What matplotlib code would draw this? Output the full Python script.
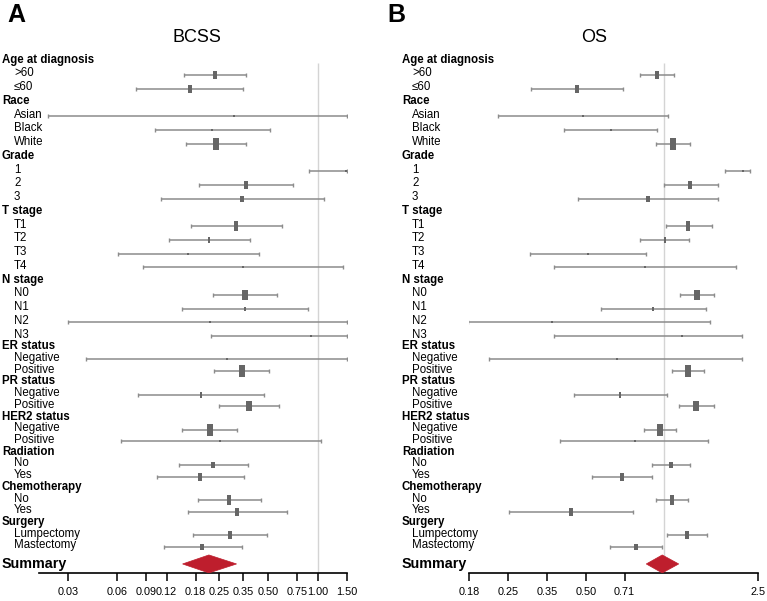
import matplotlib
matplotlib.use("Agg")
import matplotlib.pyplot as plt
from matplotlib.path import Path
from matplotlib.patches import Polygon
from matplotlib.transforms import blended_transform_factory

plt.rcParams['font.family'] = ['Liberation Sans', 'DejaVu Sans']

# variables and their levels (row order, top to bottom)
group_names = ["Age at diagnosis", "Race", "Grade", "T stage", "N stage", "ER status",
               "PR status", "HER2 status", "Radiation", "Chemotherapy", "Surgery"]
group_levels = [[">60", "≤60"], ["Asian", "Black", "White"], ["1", "2", "3"],
                ["T1", "T2", "T3", "T4"], ["N0", "N1", "N2", "N3"], ["Negative", "Positive"],
                ["Negative", "Positive"], ["Negative", "Positive"], ["No", "Yes"],
                ["No", "Yes"], ["Lumpectomy", "Mastectomy"]]

# relative weight of each level (box size)
weights = [7, 8, 1, 2, 12, 2, 7, 6, 9, 5, 2, 2, 10, 4, 2, 2, 2, 11, 5, 10, 11, 2, 6, 8, 9, 7, 8, 6]

# BCSS hazard ratios with 95% CI
bcss_hr = [0.236, 0.166, 0.31, 0.228, 0.239, 1.48, 0.363, 0.346, 0.317, 0.218, 0.163, 0.348, 0.361, 0.359,
           0.220, 0.915, 0.278, 0.343, 0.194, 0.382, 0.219, 0.255, 0.230, 0.192, 0.288, 0.321, 0.290, 0.198]
bcss_lo = [0.153, 0.078, 0.0228, 0.102, 0.157, 0.885, 0.188, 0.111, 0.170, 0.124, 0.0605, 0.086, 0.230, 0.148,
           0.030, 0.224, 0.0385, 0.234, 0.080, 0.251, 0.148, 0.0628, 0.142, 0.105, 0.185, 0.161, 0.174, 0.115]
bcss_hi = [0.363, 0.351, 1.5, 0.515, 0.364, 1.5, 0.707, 1.088, 0.601, 0.385, 0.439, 1.43, 0.565, 0.873,
           1.5, 1.5, 1.5, 0.501, 0.471, 0.579, 0.324, 1.04, 0.375, 0.353, 0.449, 0.650, 0.491, 0.346]
bcss_summary = (0.217, 0.150, 0.320)

# OS hazard ratios with 95% CI
os_hr = [0.942, 0.462, 0.488, 0.624, 1.091, 2.03, 1.27, 0.867, 1.247, 1.012, 0.510, 0.849, 1.35, 0.912,
         0.370, 1.18, 0.661, 1.243, 0.681, 1.34, 0.967, 0.772, 1.065, 0.689, 1.077, 0.439, 1.232, 0.783]
os_lo = [0.812, 0.306, 0.230, 0.411, 0.937, 1.73, 1.0, 0.465, 1.024, 0.814, 0.305, 0.377, 1.16, 0.573,
         0.176, 0.376, 0.212, 1.08, 0.451, 1.15, 0.838, 0.398, 0.904, 0.531, 0.931, 0.252, 1.034, 0.621]
os_hi = [1.093, 0.699, 1.037, 0.945, 1.266, 2.16, 1.62, 1.62, 1.536, 1.258, 0.857, 1.90, 1.57, 1.46,
         1.51, 2.01, 2.01, 1.43, 1.03, 1.56, 1.12, 1.49, 1.26, 0.898, 1.243, 0.760, 1.47, 0.985]
os_summary = (0.988, 0.857, 1.144)

bcss_ticks = [0.03, 0.06, 0.09, 0.12, 0.18, 0.25, 0.35, 0.50, 0.75, 1.00, 1.50]
bcss_ticklabels = ["0.03", "0.06", "0.09", "0.12", "0.18", "0.25", "0.35", "0.50", "0.75", "1.00", "1.50"]
os_ticks = [0.177, 0.25, 0.354, 0.50, 0.707, 2.31]
os_ticklabels = ["0.18", "0.25", "0.35", "0.50", "0.71", "2.5"]

W, H = 767, 601
fig = plt.figure(figsize=(W / 100, H / 100), dpi=100)

LINE_C = '#8c8c8c'
BOX_C = '#666666'
RED = '#be1e2d'
box_marker = Path([(-0.25, -0.5), (0.25, -0.5), (0.25, 0.5), (-0.25, 0.5), (-0.25, -0.5)],
                  [Path.MOVETO, Path.LINETO, Path.LINETO, Path.LINETO, Path.CLOSEPOLY])


def row_y(i):
    # rows are spaced a bit wider in the upper half than in the lower half
    return 75 + 13.74 * (i - 1) if i <= 20 else 336 + 11.72 * (i - 20)


def forest(x0, x1, xlim, hr, lo, hi, summary, ticks, ticklabels, head_x, item_x, title, title_x, letter, letter_x):
    ax = fig.add_axes([x0 / W, (H - 573) / H, (x1 - x0) / W, (573 - 50) / H])
    ax.set_xscale('log')
    ax.set_xlim(*xlim)
    ax.set_ylim(573, 50)
    tr = blended_transform_factory(fig.transFigure, ax.transData)

    ax.vlines(1.0, 63, 573, color='#d4d4d4', lw=1.0, zorder=0)

    idx = 0
    k = 0
    for name, levels in zip(group_names, group_levels):
        ax.text(head_x / W, row_y(idx) + 1.5, name, transform=tr, fontsize=8.3,
                fontweight='bold', va='baseline', ha='left')
        idx += 1
        for lev in levels:
            y = row_y(idx)
            ax.text(item_x / W, y + 1.5, lev, transform=tr, fontsize=8.3, va='baseline', ha='left')
            ax.plot([lo[k], hi[k]], [y, y], color=LINE_C, lw=1.1, solid_capstyle='butt')
            ax.plot([lo[k], hi[k]], [y, y], ls='none', marker='|', ms=3.2, mew=1.0, color=LINE_C)
            ax.plot([hr[k]], [y], ls='none', marker=box_marker, ms=max(weights[k], 2) * 0.75,
                    mew=0, color=BOX_C)
            idx += 1
            k += 1

    ys = row_y(idx - 1) + 17
    h_est, h_lo, h_hi = summary
    ax.add_patch(Polygon([(h_lo, ys), (h_est, ys - 9), (h_hi, ys), (h_est, ys + 9)],
                         closed=True, facecolor=RED, edgecolor=RED, lw=0.5, zorder=3))
    ax.text(head_x / W, ys + 4.5, "Summary", transform=tr, fontsize=10.3,
            fontweight='bold', va='baseline', ha='left')

    for s in ['top', 'right', 'left']:
        ax.spines[s].set_visible(False)
    ax.spines['bottom'].set_linewidth(1.2)
    ax.set_yticks([])
    ax.set_xticks(ticks)
    ax.set_xticklabels(ticklabels)
    ax.xaxis.set_minor_locator(matplotlib.ticker.NullLocator())
    ax.tick_params(axis='x', direction='out', length=6, width=1.1, pad=4, labelsize=7.8)

    fig.text(title_x / W, 1 - 38 / H, title, fontsize=13, ha='center', va='center')
    fig.text(letter_x / W, 1 - 15 / H, letter, fontsize=18, fontweight='bold', ha='left', va='center')
    return ax


forest(39.3, 346.7, (0.0201, 1.5), bcss_hr, bcss_lo, bcss_hi, bcss_summary,
       bcss_ticks, bcss_ticklabels, 2, 14, "BCSS", 197, "A", 7)
forest(469, 757.7, (0.177, 2.31), os_hr, os_lo, os_hi, os_summary,
       os_ticks, os_ticklabels, 402, 412, "OS", 594, "B", 387)

fig.savefig("out.png", dpi=100)
